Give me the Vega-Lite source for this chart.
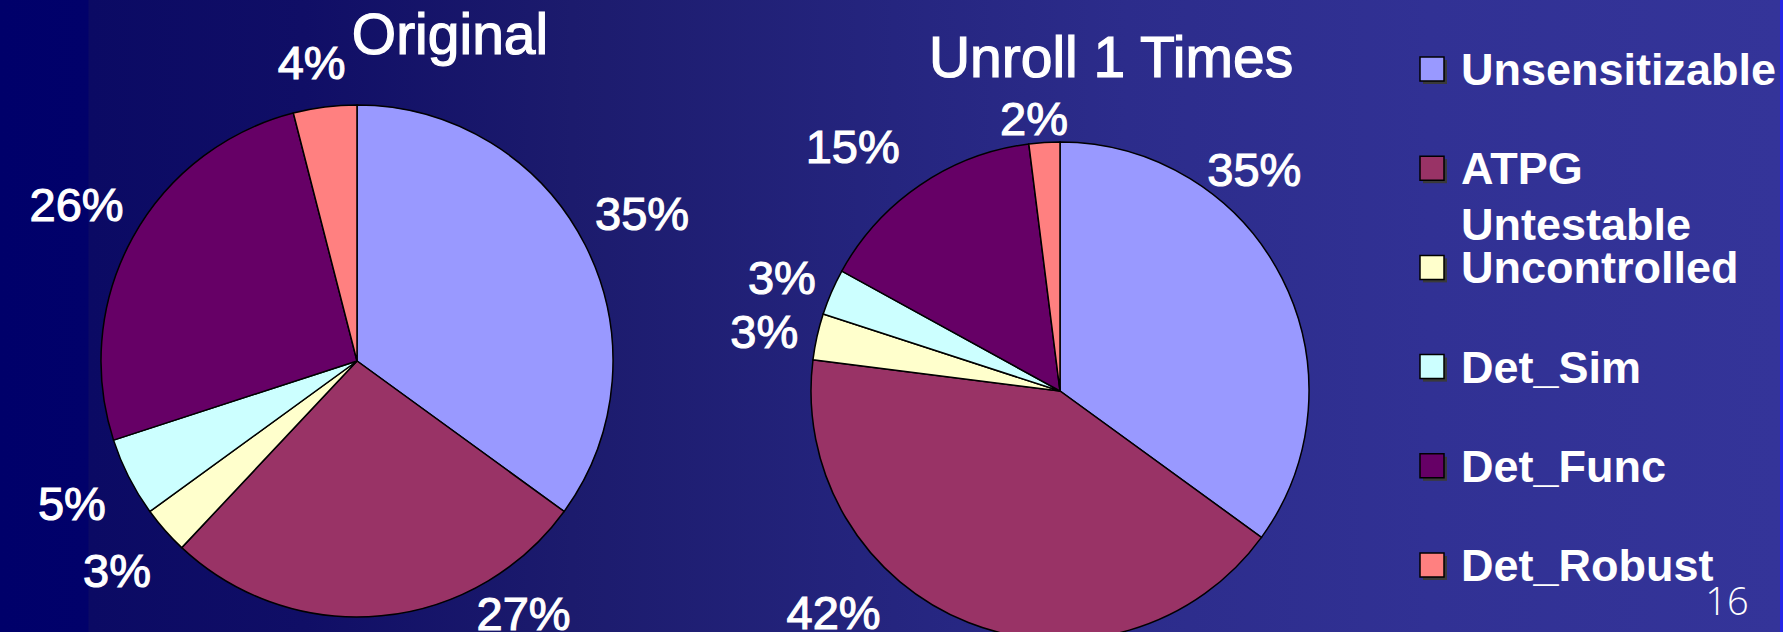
{
  "$schema": "https://vega.github.io/schema/vega-lite/v6.json",
  "width": 1787,
  "height": 632,
  "autosize": {"type": "none"},
  "padding": 0,
  "background": "#00006a",
  "config": {"view": {"stroke": null}, "font": "Liberation Sans"},
  "data": {
    "values": [
      {"chart": "Original", "category": "Unsensitizable", "k": 1, "value": 0.35},
      {"chart": "Original", "category": "ATPG Untestable", "k": 2, "value": 0.27},
      {"chart": "Original", "category": "Uncontrolled", "k": 3, "value": 0.03},
      {"chart": "Original", "category": "Det_Sim", "k": 4, "value": 0.05},
      {"chart": "Original", "category": "Det_Func", "k": 5, "value": 0.26},
      {"chart": "Original", "category": "Det_Robust", "k": 6, "value": 0.04},
      {"chart": "Unroll 1 Times", "category": "Unsensitizable", "k": 1, "value": 0.35},
      {"chart": "Unroll 1 Times", "category": "ATPG Untestable", "k": 2, "value": 0.42},
      {"chart": "Unroll 1 Times", "category": "Uncontrolled", "k": 3, "value": 0.03},
      {"chart": "Unroll 1 Times", "category": "Det_Sim", "k": 4, "value": 0.03},
      {"chart": "Unroll 1 Times", "category": "Det_Func", "k": 5, "value": 0.15},
      {"chart": "Unroll 1 Times", "category": "Det_Robust", "k": 6, "value": 0.02}
    ]
  },
  "transform": [
    {"stack": "value", "groupby": ["chart"], "sort": [{"field": "k", "order": "ascending"}], "as": ["v0", "v1"]},
    {"calculate": "(datum.v0 + datum.v1) / 2", "as": "vm"}
  ],
  "layer": [
    {
      "data": {"values": [{}]},
      "mark": {
        "type": "rect",
        "color": {
          "gradient": "linear", "x1": 0, "y1": 0, "x2": 1, "y2": 0,
          "stops": [
            {"offset": 0, "color": "#00006a"},
            {"offset": 0.049, "color": "#01016a"},
            {"offset": 0.05, "color": "#0b0a64"},
            {"offset": 0.17, "color": "#100e66"},
            {"offset": 0.32, "color": "#1c1b6d"},
            {"offset": 0.5, "color": "#25257f"},
            {"offset": 0.63, "color": "#2c2c8b"},
            {"offset": 0.8, "color": "#313194"},
            {"offset": 0.996, "color": "#343499"},
            {"offset": 0.9961, "color": "#2626e6"},
            {"offset": 0.9977, "color": "#2626e6"},
            {"offset": 0.9978, "color": "#ffffff"},
            {"offset": 1, "color": "#ffffff"}
          ]
        }
      },
      "encoding": {}
    },
    {
      "transform": [{"filter": "datum.chart == 'Original'"}],
      "mark": {"type": "arc", "radius": 256, "stroke": "#000000", "strokeWidth": 1.5},
      "encoding": {
        "x": {"field": "chart", "type": "nominal", "scale": {"type": "point", "domain": ["Original", "Unroll 1 Times"], "range": [357, 1060], "padding": 0}, "axis": null},
        "y": {"field": "chart", "type": "nominal", "scale": {"type": "point", "domain": ["Original", "Unroll 1 Times"], "range": [361, 391], "padding": 0}, "axis": null},
        "theta": {"field": "v0", "type": "quantitative", "stack": null, "scale": {"domain": [0, 1]}},
        "theta2": {"field": "v1"},
        "color": {"field": "category", "type": "nominal", "scale": {"domain": ["Unsensitizable", "ATPG Untestable", "Uncontrolled", "Det_Sim", "Det_Func", "Det_Robust"], "range": ["#9999ff", "#993366", "#ffffcc", "#ccffff", "#660066", "#ff8080"]}, "legend": null}
      }
    },
    {
      "transform": [{"filter": "datum.chart == 'Unroll 1 Times'"}],
      "mark": {"type": "arc", "radius": 249, "stroke": "#000000", "strokeWidth": 1.5},
      "encoding": {
        "x": {"field": "chart", "type": "nominal", "scale": {"type": "point", "domain": ["Original", "Unroll 1 Times"], "range": [357, 1060], "padding": 0}, "axis": null},
        "y": {"field": "chart", "type": "nominal", "scale": {"type": "point", "domain": ["Original", "Unroll 1 Times"], "range": [361, 391], "padding": 0}, "axis": null},
        "theta": {"field": "v0", "type": "quantitative", "stack": null, "scale": {"domain": [0, 1]}},
        "theta2": {"field": "v1"},
        "color": {"field": "category", "type": "nominal", "legend": null}
      }
    },
    {
      "transform": [{"filter": "datum.chart == 'Original' && (datum.category == 'Unsensitizable' || datum.category == 'Uncontrolled' || datum.category == 'Det_Sim' || datum.category == 'Det_Func')"}],
      "mark": {"type": "text", "radius": 320, "fontSize": 47, "color": "#ffffff", "stroke": "#ffffff", "strokeWidth": 1.1, "align": "center", "baseline": "middle"},
      "encoding": {
        "x": {"field": "chart", "type": "nominal", "scale": {"type": "point", "domain": ["Original", "Unroll 1 Times"], "range": [357, 1060], "padding": 0}, "axis": null},
        "y": {"field": "chart", "type": "nominal", "scale": {"type": "point", "domain": ["Original", "Unroll 1 Times"], "range": [361, 391], "padding": 0}, "axis": null},
        "theta": {"field": "vm", "type": "quantitative", "stack": null, "scale": {"domain": [0, 1]}},
        "text": {"field": "value", "type": "quantitative", "format": ".0%"}
      }
    },
    {
      "transform": [{"filter": "datum.chart == 'Original' && datum.category == 'Det_Robust'"}],
      "mark": {"type": "text", "radius": 298, "dx": -8, "fontSize": 47, "color": "#ffffff", "stroke": "#ffffff", "strokeWidth": 1.1, "align": "center", "baseline": "middle"},
      "encoding": {
        "x": {"field": "chart", "type": "nominal", "scale": {"type": "point", "domain": ["Original", "Unroll 1 Times"], "range": [357, 1060], "padding": 0}, "axis": null},
        "y": {"field": "chart", "type": "nominal", "scale": {"type": "point", "domain": ["Original", "Unroll 1 Times"], "range": [361, 391], "padding": 0}, "axis": null},
        "theta": {"field": "vm", "type": "quantitative", "stack": null, "scale": {"domain": [0, 1]}},
        "text": {"field": "value", "type": "quantitative", "format": ".0%"}
      }
    },
    {
      "transform": [{"filter": "datum.chart == 'Original' && datum.category == 'ATPG Untestable'"}],
      "mark": {"type": "text", "radius": 314, "dx": 137, "dy": -58, "fontSize": 47, "color": "#ffffff", "stroke": "#ffffff", "strokeWidth": 1.1, "align": "center", "baseline": "middle"},
      "encoding": {
        "x": {"field": "chart", "type": "nominal", "scale": {"type": "point", "domain": ["Original", "Unroll 1 Times"], "range": [357, 1060], "padding": 0}, "axis": null},
        "y": {"field": "chart", "type": "nominal", "scale": {"type": "point", "domain": ["Original", "Unroll 1 Times"], "range": [361, 391], "padding": 0}, "axis": null},
        "theta": {"field": "vm", "type": "quantitative", "stack": null, "scale": {"domain": [0, 1]}},
        "text": {"field": "value", "type": "quantitative", "format": ".0%"}
      }
    },
    {
      "transform": [{"filter": "datum.chart == 'Unroll 1 Times' && (datum.category == 'Uncontrolled' || datum.category == 'Det_Sim')"}],
      "mark": {"type": "text", "radius": 303, "dy": 9, "fontSize": 47, "color": "#ffffff", "stroke": "#ffffff", "strokeWidth": 1.1, "align": "center", "baseline": "middle"},
      "encoding": {
        "x": {"field": "chart", "type": "nominal", "scale": {"type": "point", "domain": ["Original", "Unroll 1 Times"], "range": [357, 1060], "padding": 0}, "axis": null},
        "y": {"field": "chart", "type": "nominal", "scale": {"type": "point", "domain": ["Original", "Unroll 1 Times"], "range": [361, 391], "padding": 0}, "axis": null},
        "theta": {"field": "vm", "type": "quantitative", "stack": null, "scale": {"domain": [0, 1]}},
        "text": {"field": "value", "type": "quantitative", "format": ".0%"}
      }
    },
    {
      "transform": [{"filter": "datum.chart == 'Unroll 1 Times' && datum.category == 'Det_Func'"}],
      "mark": {"type": "text", "radius": 303, "dx": -37, "dy": 9, "fontSize": 47, "color": "#ffffff", "stroke": "#ffffff", "strokeWidth": 1.1, "align": "center", "baseline": "middle"},
      "encoding": {
        "x": {"field": "chart", "type": "nominal", "scale": {"type": "point", "domain": ["Original", "Unroll 1 Times"], "range": [357, 1060], "padding": 0}, "axis": null},
        "y": {"field": "chart", "type": "nominal", "scale": {"type": "point", "domain": ["Original", "Unroll 1 Times"], "range": [361, 391], "padding": 0}, "axis": null},
        "theta": {"field": "vm", "type": "quantitative", "stack": null, "scale": {"domain": [0, 1]}},
        "text": {"field": "value", "type": "quantitative", "format": ".0%"}
      }
    },
    {
      "transform": [{"filter": "datum.chart == 'Unroll 1 Times' && datum.category == 'Det_Robust'"}],
      "mark": {"type": "text", "radius": 271, "dx": -9, "fontSize": 47, "color": "#ffffff", "stroke": "#ffffff", "strokeWidth": 1.1, "align": "center", "baseline": "middle"},
      "encoding": {
        "x": {"field": "chart", "type": "nominal", "scale": {"type": "point", "domain": ["Original", "Unroll 1 Times"], "range": [357, 1060], "padding": 0}, "axis": null},
        "y": {"field": "chart", "type": "nominal", "scale": {"type": "point", "domain": ["Original", "Unroll 1 Times"], "range": [361, 391], "padding": 0}, "axis": null},
        "theta": {"field": "vm", "type": "quantitative", "stack": null, "scale": {"domain": [0, 1]}},
        "text": {"field": "value", "type": "quantitative", "format": ".0%"}
      }
    },
    {
      "transform": [{"filter": "datum.chart == 'Unroll 1 Times' && datum.category == 'Unsensitizable'"}],
      "mark": {"type": "text", "radius": 300, "dx": -73, "dy": -83, "fontSize": 47, "color": "#ffffff", "stroke": "#ffffff", "strokeWidth": 1.1, "align": "center", "baseline": "middle"},
      "encoding": {
        "x": {"field": "chart", "type": "nominal", "scale": {"type": "point", "domain": ["Original", "Unroll 1 Times"], "range": [357, 1060], "padding": 0}, "axis": null},
        "y": {"field": "chart", "type": "nominal", "scale": {"type": "point", "domain": ["Original", "Unroll 1 Times"], "range": [361, 391], "padding": 0}, "axis": null},
        "theta": {"field": "vm", "type": "quantitative", "stack": null, "scale": {"domain": [0, 1]}},
        "text": {"field": "value", "type": "quantitative", "format": ".0%"}
      }
    },
    {
      "transform": [{"filter": "datum.chart == 'Unroll 1 Times' && datum.category == 'ATPG Untestable'"}],
      "mark": {"type": "text", "radius": 300, "dx": -116, "dy": -55, "fontSize": 47, "color": "#ffffff", "stroke": "#ffffff", "strokeWidth": 1.1, "align": "center", "baseline": "middle"},
      "encoding": {
        "x": {"field": "chart", "type": "nominal", "scale": {"type": "point", "domain": ["Original", "Unroll 1 Times"], "range": [357, 1060], "padding": 0}, "axis": null},
        "y": {"field": "chart", "type": "nominal", "scale": {"type": "point", "domain": ["Original", "Unroll 1 Times"], "range": [361, 391], "padding": 0}, "axis": null},
        "theta": {"field": "vm", "type": "quantitative", "stack": null, "scale": {"domain": [0, 1]}},
        "text": {"field": "value", "type": "quantitative", "format": ".0%"}
      }
    },
    {
      "transform": [{"filter": "datum.category == 'Unsensitizable'"}],
      "mark": {"type": "text", "fontSize": 57, "color": "#ffffff", "stroke": "#ffffff", "strokeWidth": 1.2, "align": "center", "baseline": "alphabetic"},
      "encoding": {
        "x": {"field": "chart", "type": "nominal", "scale": {"type": "point", "domain": ["Original", "Unroll 1 Times"], "range": [450, 1111], "padding": 0}, "axis": null},
        "y": {"field": "chart", "type": "nominal", "scale": {"type": "point", "domain": ["Original", "Unroll 1 Times"], "range": [54, 77], "padding": 0}, "axis": null},
        "text": {"field": "chart", "type": "nominal"}
      }
    },
    {
      "transform": [{"filter": "datum.chart == 'Original'"}],
      "mark": {"type": "square", "size": 576, "color": "#3a3a3a", "opacity": 1, "xOffset": 3, "yOffset": 3},
      "encoding": {
        "x": {"value": 1432},
        "y": {"field": "category", "type": "nominal", "scale": {"type": "point", "domain": ["Unsensitizable", "ATPG Untestable", "Uncontrolled", "Det_Sim", "Det_Func", "Det_Robust"], "range": [69, 565], "padding": 0}, "axis": null}
      }
    },
    {
      "transform": [{"filter": "datum.chart == 'Original'"}],
      "mark": {"type": "square", "size": 576, "opacity": 1, "stroke": "#000000", "strokeWidth": 1.5},
      "encoding": {
        "x": {"value": 1432},
        "y": {"field": "category", "type": "nominal", "scale": {"type": "point", "domain": ["Unsensitizable", "ATPG Untestable", "Uncontrolled", "Det_Sim", "Det_Func", "Det_Robust"], "range": [69, 565], "padding": 0}, "axis": null},
        "color": {"field": "category", "type": "nominal", "legend": null}
      }
    },
    {
      "transform": [{"filter": "datum.chart == 'Original'"}],
      "mark": {"type": "text", "fontSize": 45, "fontWeight": "bold", "color": "#ffffff", "align": "left", "baseline": "alphabetic", "dy": 16, "lineBreak": " ", "lineHeight": 56},
      "encoding": {
        "x": {"value": 1461},
        "y": {"field": "category", "type": "nominal", "scale": {"type": "point", "domain": ["Unsensitizable", "ATPG Untestable", "Uncontrolled", "Det_Sim", "Det_Func", "Det_Robust"], "range": [69, 565], "padding": 0}, "axis": null},
        "text": {"field": "category", "type": "nominal"}
      }
    },
    {
      "data": {"values": [{"page": "16"}]},
      "mark": {"type": "text", "font": "Open Sans", "fontWeight": 300, "fontSize": 38, "color": "#ffffff", "align": "center", "baseline": "alphabetic"},
      "encoding": {
        "x": {"value": 1727},
        "y": {"value": 615},
        "text": {"field": "page", "type": "nominal"}
      }
    }
  ],
  "resolve": {"scale": {"x": "independent", "y": "independent"}}
}
